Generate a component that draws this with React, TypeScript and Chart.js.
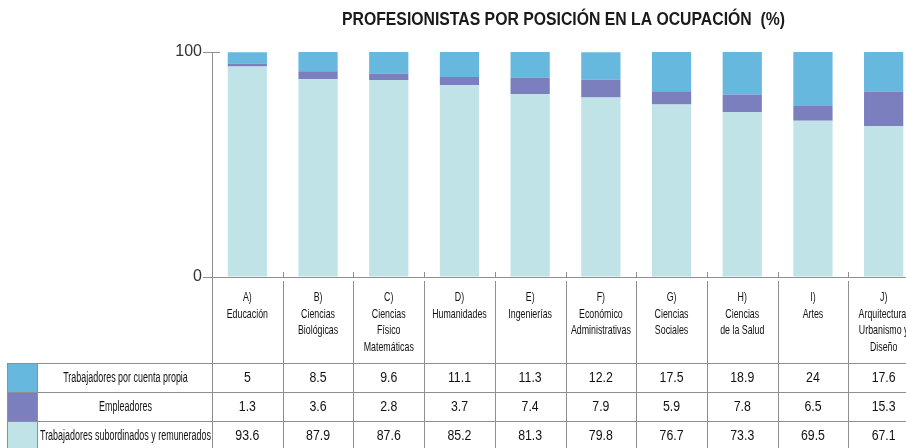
import React, { useEffect, useRef } from "react";
import { Chart, registerables } from "chart.js";

Chart.register(...registerables);

const TITLE = "PROFESIONISTAS POR POSICIÓN EN LA OCUPACIÓN  (%)";

const categories: string[][] = [
  ["A)", "Educación"],
  ["B)", "Ciencias", "Biológicas"],
  ["C)", "Ciencias", "Físico", "Matemáticas"],
  ["D)", "Humanidades"],
  ["E)", "Ingenierías"],
  ["F)", "Económico", "Administrativas"],
  ["G)", "Ciencias", "Sociales"],
  ["H)", "Ciencias", "de la Salud"],
  ["I)", "Artes"],
  ["J)", "Arquitectura,", "Urbanismo y", "Diseño"],
];

const seriesNames = [
  "Trabajadores por cuenta propia",
  "Empleadores",
  "Trabajadores subordinados y remunerados",
];

const cuentaPropia = [5, 8.5, 9.6, 11.1, 11.3, 12.2, 17.5, 18.9, 24, 17.6];
const empleadores = [1.3, 3.6, 2.8, 3.7, 7.4, 7.9, 5.9, 7.8, 6.5, 15.3];
const subordinados = [93.6, 87.9, 87.6, 85.2, 81.3, 79.8, 76.7, 73.3, 69.5, 67.1];

const yTicks = [0, 100];

const COLORS = {
  cuentaPropia: "#67B8DF",
  empleadores: "#7B7FBD",
  subordinados: "#C0E3E8",
};

const LINE = "#8f8f8f";
const TEXT = "#111111";
const FONT = '"Liberation Sans", Arial, sans-serif';

function drawScaled(
  ctx: CanvasRenderingContext2D,
  text: string,
  x: number,
  y: number,
  sx: number
) {
  ctx.save();
  ctx.translate(x, y);
  ctx.scale(sx, 1);
  ctx.fillText(text, 0, 0);
  ctx.restore();
}

const tablePlugin = {
  id: "tablePlugin",
  afterDraw(chart: any) {
    const ctx: CanvasRenderingContext2D = chart.ctx;
    const area = chart.chartArea;
    const xs = chart.scales.x;
    const n = categories.length;
    const step = xs.getPixelForValue(1) - xs.getPixelForValue(0);
    const H = chart.height;
    const crisp = (v: number) => Math.round(v) + 0.5;

    ctx.save();
    ctx.textAlign = "center";
    ctx.textBaseline = "middle";

    // title
    ctx.fillStyle = "#1a1a1a";
    ctx.font = `bold 18px ${FONT}`;
    const tw = ctx.measureText(TITLE).width;
    drawScaled(ctx, TITLE, 563.5, 20, 443 / tw);

    ctx.strokeStyle = LINE;
    ctx.lineWidth = 1;
    // extension of top tick into the area
    ctx.beginPath();
    ctx.moveTo(area.left, crisp(area.top));
    ctx.lineTo(area.left + 8, crisp(area.top));
    ctx.stroke();

    const bottom = area.bottom;
    const headerBottom = 363;
    const rowH = 29;
    const tableLeft = 7;
    const swatchRight = 37;

    // category boundary ticks and table column lines
    for (let k = 0; k <= n; k++) {
      const bx = crisp(area.left + k * step);
      ctx.beginPath();
      if (k > 0) {
        ctx.moveTo(bx, bottom - 5);
        ctx.lineTo(bx, bottom);
        ctx.moveTo(bx, bottom + 4);
      } else {
        ctx.moveTo(bx, bottom);
      }
      ctx.lineTo(bx, H);
      ctx.stroke();
    }

    // horizontal rows
    for (let r = 0; r < 3; r++) {
      const yy = crisp(headerBottom + r * rowH);
      ctx.beginPath();
      ctx.moveTo(tableLeft, yy);
      ctx.lineTo(chart.width, yy);
      ctx.stroke();
    }
    ctx.beginPath();
    ctx.moveTo(crisp(tableLeft), headerBottom);
    ctx.lineTo(crisp(tableLeft), H);
    ctx.moveTo(crisp(swatchRight), headerBottom);
    ctx.lineTo(crisp(swatchRight), H);
    ctx.stroke();

    // header labels
    ctx.fillStyle = TEXT;
    ctx.font = `13px ${FONT}`;
    const labels = chart.data.labels as string[][];
    labels.forEach((lines, i) => {
      const cx = xs.getPixelForValue(i);
      lines.forEach((ln, j) => {
        drawScaled(ctx, ln, cx, 297.5 + j * 16.7, 0.68);
      });
    });

    // rows
    const rows = [
      { name: seriesNames[0], color: COLORS.cuentaPropia, values: cuentaPropia },
      { name: seriesNames[1], color: COLORS.empleadores, values: empleadores },
      { name: seriesNames[2], color: COLORS.subordinados, values: subordinados },
    ];
    rows.forEach((row, r) => {
      const top = headerBottom + r * rowH;
      ctx.fillStyle = row.color;
      ctx.fillRect(tableLeft + 1, top + 1, swatchRight - tableLeft - 1, rowH - 1);
      const cy = top + rowH / 2 + 1;
      ctx.fillStyle = TEXT;
      ctx.font = `14px ${FONT}`;
      drawScaled(ctx, row.name, (swatchRight + area.left) / 2 + 1, cy, 0.64);
      row.values.forEach((v, i) => {
        drawScaled(ctx, String(v), xs.getPixelForValue(i), cy, 0.88);
      });
    });
    ctx.restore();
  },
};

export default function App() {
  const canvasRef = useRef<HTMLCanvasElement | null>(null);

  useEffect(() => {
    const canvas = canvasRef.current;
    if (!canvas) return;
    const chart = new Chart(canvas, {
      type: "bar",
      data: {
        labels: categories,
        datasets: [
          {
            label: seriesNames[2],
            data: subordinados,
            backgroundColor: COLORS.subordinados,
            borderWidth: 0,
          },
          {
            label: seriesNames[1],
            data: empleadores,
            backgroundColor: COLORS.empleadores,
            borderWidth: 0,
          },
          {
            label: seriesNames[0],
            data: cuentaPropia,
            backgroundColor: COLORS.cuentaPropia,
            borderWidth: 0,
          },
        ],
      },
      options: {
        responsive: false,
        animation: false,
        devicePixelRatio: 1,
        layout: { padding: { top: 52, bottom: 171, left: 0, right: 0 } },
        plugins: {
          legend: { display: false },
          title: { display: false },
          tooltip: { enabled: false },
        },
        datasets: {
          bar: { barPercentage: 0.555, categoryPercentage: 1 },
        },
        scales: {
          x: {
            stacked: true,
            ticks: { display: false, padding: 0 },
            grid: { display: false, drawTicks: false, tickLength: 0 },
            border: { display: true, color: LINE, width: 1 },
            afterFit: (scale: any) => {
              scale.height = 0;
            },
          },
          y: {
            stacked: true,
            min: 0,
            max: 100,
            afterFit: (scale: any) => {
              scale.width = 212;
            },
            afterBuildTicks: (scale: any) => {
              scale.ticks = yTicks.map((v) => ({ value: v }));
            },
            ticks: {
              padding: 1,
              color: "#333333",
              font: { family: FONT, size: 16 },
            },
            grid: {
              display: true,
              drawOnChartArea: false,
              drawTicks: true,
              tickLength: 9,
              color: LINE,
            },
            border: { display: true, color: LINE, width: 1 },
          },
        },
      },
      plugins: [tablePlugin],
    });
    return () => chart.destroy();
  }, []);

  return (
    <div
      style={{
        position: "fixed",
        left: 0,
        top: 0,
        width: 906,
        height: 448,
        overflow: "hidden",
        background: "#ffffff",
      }}
    >
      <canvas ref={canvasRef} width={919} height={448} style={{ display: "block" }} />
    </div>
  );
}
